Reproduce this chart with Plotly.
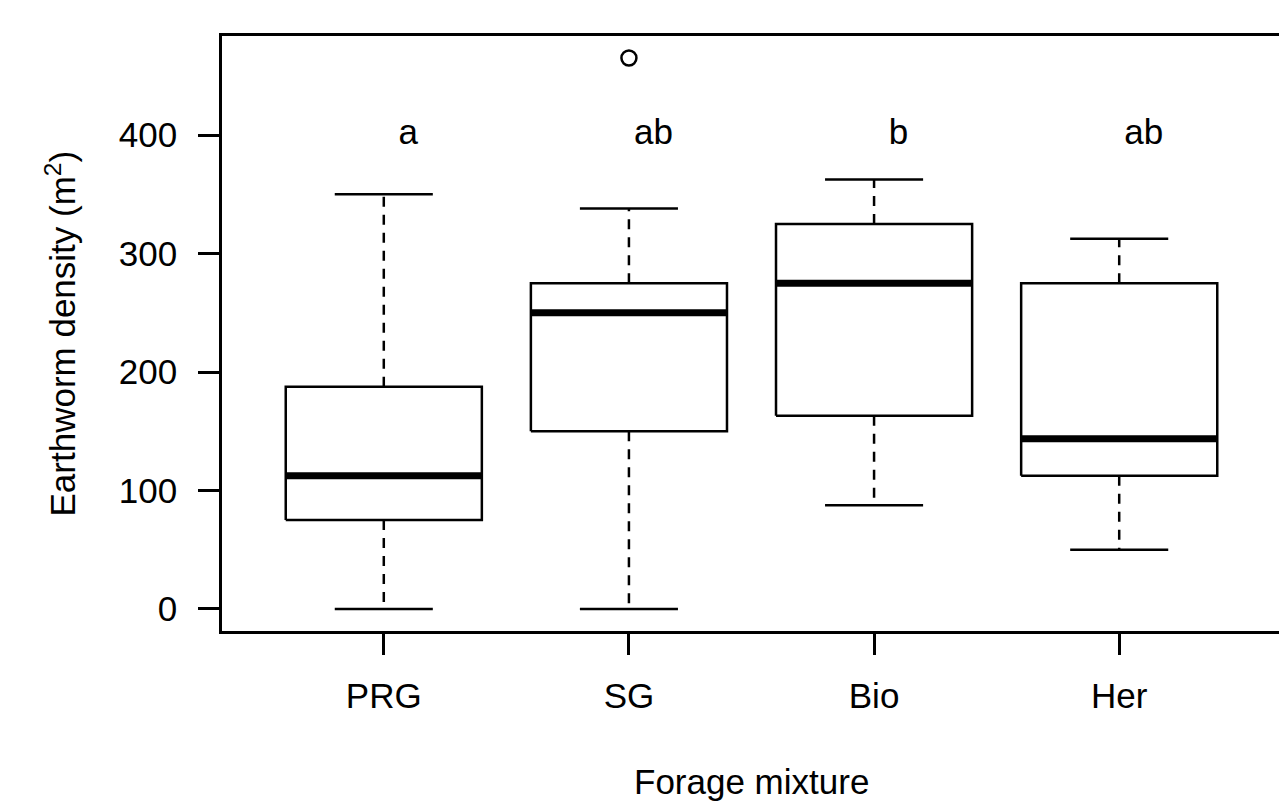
import plotly.graph_objects as go

categories = ["PRG", "SG", "Bio", "Her"]
lower = [0, 0, 87.5, 50]
q1 = [75, 150, 163, 112.5]
median = [112.5, 250, 275, 143.75]
q3 = [187.5, 275, 325, 275]
upper = [350, 338, 362.5, 312.5]
outlier_cat = ["SG"]
outlier_val = [465]
letters = ["a", "ab", "b", "ab"]
letter_y = 400
y_ticks = [0, 100, 200, 300, 400]

FONT = "Liberation Sans, Arial, sans-serif"
FS = 35
pos = {c: i + 1 for i, c in enumerate(categories)}
hw = 0.4   # box half-width
cw = 0.2   # cap half-width

box_x, box_y, med_x, med_y, wh_x, wh_y, cap_x, cap_y = [], [], [], [], [], [], [], []
for c, lo, a, m, b, hi in zip(categories, lower, q1, median, q3, upper):
    p = pos[c]
    box_x += [p - hw, p + hw, p + hw, p - hw, p - hw, None]
    box_y += [a, a, b, b, a, None]
    med_x += [p - hw, p + hw, None]
    med_y += [m, m, None]
    wh_x += [p, p, None, p, p, None]
    wh_y += [b, hi, None, a, lo, None]
    cap_x += [p - cw, p + cw, None, p - cw, p + cw, None]
    cap_y += [hi, hi, None, lo, lo, None]

fig = go.Figure()
fig.add_trace(go.Scatter(x=wh_x, y=wh_y, mode="lines",
                         line=dict(color="black", width=2.5, dash="10px,8px"),
                         hoverinfo="skip"))
fig.add_trace(go.Scatter(x=cap_x, y=cap_y, mode="lines",
                         line=dict(color="black", width=2.5), hoverinfo="skip"))
fig.add_trace(go.Scatter(x=box_x, y=box_y, mode="lines", fill="toself",
                         fillcolor="white",
                         line=dict(color="black", width=2.5), hoverinfo="skip"))
fig.add_trace(go.Scatter(x=med_x, y=med_y, mode="lines",
                         line=dict(color="black", width=7), hoverinfo="skip"))
fig.add_trace(go.Scatter(x=[pos[c] for c in outlier_cat], y=outlier_val,
                         mode="markers",
                         marker=dict(symbol="circle-open", size=15, color="black",
                                     line=dict(width=2.5, color="black"))))
fig.add_trace(go.Scatter(x=[pos[c] + 0.1 for c in categories],
                         y=[letter_y] * len(categories), mode="text",
                         text=letters,
                         textfont=dict(family=FONT, size=FS, color="black")))

axis_common = dict(showline=True, linecolor="black", linewidth=2.5, mirror=True,
                   ticks="outside", ticklen=21, tickwidth=2.5, tickcolor="black",
                   showgrid=False, zeroline=False,
                   tickfont=dict(family=FONT, size=FS, color="black"))

fig.update_layout(
    width=1287, height=802,
    margin=dict(l=214, r=11, t=28, b=179),
    plot_bgcolor="white", paper_bgcolor="white",
    showlegend=False,
    xaxis=dict(range=[0.34, 4.66], tickvals=[pos[c] for c in categories],
               ticktext=categories, ticklabelstandoff=11, **axis_common),
    yaxis=dict(range=[-18.6, 483.6], tickvals=y_ticks,
               ticktext=[str(v) for v in y_ticks], ticklabelstandoff=14,
               **axis_common),
    annotations=[
        dict(text="Forage mixture", xref="paper", yref="paper", x=0.5, y=0,
             yanchor="middle", yshift=-150, showarrow=False,
             font=dict(family=FONT, size=FS, color="black")),
        dict(text="Earthworm density (m<sup>2</sup>)", xref="paper", yref="paper",
             x=0, y=0.5, xanchor="center", xshift=-162, textangle=-90,
             showarrow=False, font=dict(family=FONT, size=FS, color="black")),
    ],
)

fig.write_html("out.html")
